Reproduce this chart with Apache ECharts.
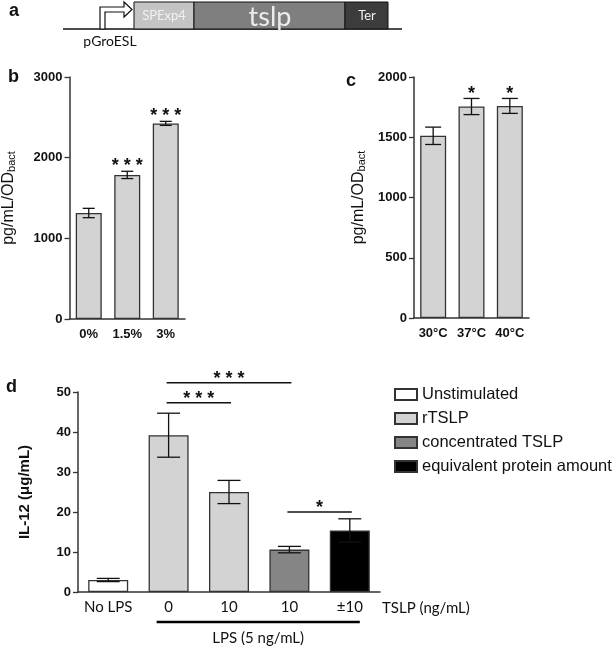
<!DOCTYPE html>
<html>
<head>
    <meta charset="utf-8" />
    <script src="https://cdn.jsdelivr.net/npm/echarts@6/dist/echarts.min.js"></script>
    <style>
        html, body { margin: 0; padding: 0; background: #fff; }
        #main { width: 615px; height: 647px; }
    </style>
</head>
<body>
    <div id="main"></div>
    <script type="text/javascript">
        // panel b
        var catsB = ['0%', '1.5%', '3%'];
        var valsB = [1314, 1786, 2425];
        var errB = [58, 45, 25];
        var starsB = ['', '* * *', '* * *'];

        // panel c
        var catsC = ['30°C', '37°C', '40°C'];
        var valsC = [1512, 1755, 1760];
        var errC = [72, 67, 62];
        var starsC = ['', '*', '*'];

        // panel d
        var catsD = ['No LPS', '0', '10', '10', '±10'];
        var valsD = [3.0, 39.2, 25.0, 10.6, 15.4];
        var errD = [0.4, 5.5, 2.9, 0.8, 2.9];
        var groupNames = ['Unstimulated', 'rTSLP', 'concentrated TSLP', 'equivalent protein amount'];
        var groupColors = ['#ffffff', '#d3d3d3', '#858585', '#000000'];
        var groupOf = [0, 1, 1, 2, 3];
        // brackets: [from, to, y, text]
        var bracketsD = [[1, 3, 52.3, '* * *'], [1, 2, 47.3, '* * *'], [3, 4, 20.0, '*']];

        var FONT = 'Liberation Sans, Arial, sans-serif';
        var edge = '#333';

        function errRows(vals, errs, stars) {
            var rows = [];
            for (var i = 0; i < vals.length; i++) {
                rows.push([i, vals[i], errs[i], stars ? stars[i] : '']);
            }
            return rows;
        }

        function errSeries(idx, rows, capW, starSize, starGap) {
            return {
                type: 'custom',
                xAxisIndex: idx,
                yAxisIndex: idx,
                clip: false,
                z: 5,
                data: rows,
                renderItem: function (params, api) {
                    var x = api.value(0), v = api.value(1), e = api.value(2);
                    var top = api.coord([x, v + e]);
                    var bot = api.coord([x, v - e]);
                    var st = { stroke: '#111', lineWidth: 1.3 };
                    var kids = [
                        { type: 'line', shape: { x1: top[0], y1: top[1], x2: bot[0], y2: bot[1] }, style: st },
                        { type: 'line', shape: { x1: top[0] - capW / 2, y1: top[1], x2: top[0] + capW / 2, y2: top[1] }, style: st },
                        { type: 'line', shape: { x1: bot[0] - capW / 2, y1: bot[1], x2: bot[0] + capW / 2, y2: bot[1] }, style: st }
                    ];
                    var s = rows[params.dataIndex][3];
                    if (s) {
                        kids.push({
                            type: 'text',
                            style: {
                                text: s, x: top[0], y: top[1] - starGap,
                                align: 'center', verticalAlign: 'middle',
                                fontSize: starSize, fontWeight: 'bold', fontFamily: FONT, fill: '#111'
                            }
                        });
                    }
                    return { type: 'group', children: kids };
                }
            };
        }

        function baseX(idx, cats, gridIdx) {
            return {
                type: 'category', gridIndex: gridIdx, data: cats,
                axisLine: { lineStyle: { color: edge, width: 1.5 } },
                axisTick: { alignWithLabel: true, length: 4, lineStyle: { color: edge, width: 1.3 } },
                axisLabel: { interval: 0, color: '#111', fontSize: 13, fontWeight: 'bold', fontFamily: FONT, margin: 9 }
            };
        }

        function baseY(gridIdx, max, interval, name, gap) {
            return {
                type: 'value', gridIndex: gridIdx, min: 0, max: max, interval: interval,
                splitLine: { show: false },
                axisLine: { show: true, lineStyle: { color: edge, width: 1.5 } },
                axisTick: { show: true, length: 5, lineStyle: { color: edge, width: 1.3 } },
                axisLabel: {
                    color: '#111', fontSize: 13, fontWeight: 'bold', fontFamily: FONT, margin: 7,
                    formatter: function (v) { return String(v); }
                },
                name: name, nameLocation: 'middle', nameRotate: 90, nameGap: gap
            };
        }

        var odName = '{a|pg/mL/OD}{s|bact}';
        var odRich = {
            a: { fontSize: 16, fontFamily: FONT, color: '#111' },
            s: { fontSize: 11, fontFamily: FONT, color: '#111', padding: [6, 0, 0, 0] }
        };

        var yB = baseY(0, 3000, 1000, odName, 52);
        yB.nameTextStyle = { rich: odRich };
        var yC = baseY(1, 2000, 500, odName, 47);
        yC.nameTextStyle = { rich: odRich };
        var yD = baseY(2, 50, 10, 'IL-12 (μg/mL)', 46);
        yD.nameTextStyle = { fontSize: 15, fontWeight: 'bold', fontFamily: FONT, color: '#111' };

        var xD = baseX(2, catsD, 2);
        xD.axisLabel = { interval: 0, color: '#111', fontSize: 15, fontFamily: 'Lato, sans-serif', margin: 8 };
        xD.name = 'TSLP (ng/mL)';
        xD.nameLocation = 'end';
        xD.nameGap = 2;
        xD.nameTextStyle = { fontSize: 15, fontFamily: 'Lato, sans-serif', color: '#111', align: 'left', verticalAlign: 'top', padding: [9, 0, 0, 0] };

        var barStyle = { color: '#d3d3d3', borderColor: edge, borderWidth: 1.3 };

        var series = [
            { type: 'bar', xAxisIndex: 0, yAxisIndex: 0, data: valsB, barWidth: 26, itemStyle: barStyle },
            errSeries(0, errRows(valsB, errB, starsB), 12, 18, 5),
            { type: 'bar', xAxisIndex: 1, yAxisIndex: 1, data: valsC, barWidth: 26, itemStyle: barStyle },
            errSeries(1, errRows(valsC, errC, starsC), 16, 18, 4)
        ];

        for (var g = 0; g < groupNames.length; g++) {
            var d = [];
            for (var i = 0; i < valsD.length; i++) d.push(groupOf[i] === g ? valsD[i] : '-');
            series.push({
                type: 'bar', name: groupNames[g], xAxisIndex: 2, yAxisIndex: 2,
                data: d, barWidth: 40, barGap: '-100%',
                itemStyle: { color: groupColors[g], borderColor: edge, borderWidth: 1.3 }
            });
        }
        series.push(errSeries(2, errRows(valsD, errD), 23, 18, 0));

        // significance brackets + LPS bar
        series.push({
            type: 'custom', xAxisIndex: 2, yAxisIndex: 2, clip: false, z: 6,
            data: bracketsD,
            renderItem: function (params, api) {
                var a = api.coord([api.value(0), api.value(2)]);
                var b = api.coord([api.value(1), api.value(2)]);
                var kids = [
                    { type: 'line', shape: { x1: a[0] - 2, y1: a[1], x2: b[0] + 2, y2: b[1] }, style: { stroke: '#111', lineWidth: 1.5 } },
                    {
                        type: 'text', style: {
                            text: bracketsD[params.dataIndex][3], x: (a[0] + b[0]) / 2, y: a[1] - 4,
                            align: 'center', verticalAlign: 'middle', fontSize: 18, fontWeight: 'bold', fontFamily: FONT, fill: '#111'
                        }
                    }
                ];
                return { type: 'group', children: kids };
            }
        });
        series.push({
            type: 'custom', xAxisIndex: 2, yAxisIndex: 2, clip: false, z: 6,
            data: [[1, 4, 'LPS (5 ng/mL)']],
            renderItem: function (params, api) {
                var a = api.coord([api.value(0), 0]);
                var b = api.coord([api.value(1), 0]);
                var y = a[1] + 30;
                return {
                    type: 'group', children: [
                        { type: 'line', shape: { x1: a[0] - 12, y1: y, x2: b[0] + 10, y2: y }, style: { stroke: '#000', lineWidth: 2.5 } },
                        {
                            type: 'text', style: {
                                text: 'LPS (5 ng/mL)', x: (a[0] + b[0]) / 2 - 1, y: y + 16,
                                align: 'center', verticalAlign: 'middle', fontSize: 15, fontFamily: 'Lato, sans-serif', fill: '#111'
                            }
                        }
                    ]
                };
            }
        });

        var panelLabel = function (t, x, y) {
            return { type: 'text', left: x, top: y, style: { text: t, fontSize: 18, fontWeight: 'bold', fontFamily: FONT, fill: '#111' } };
        };

        // panel a schematic
        var graphic = [
            panelLabel('a', 9, 2),
            panelLabel('b', 8, 68),
            panelLabel('c', 346, 72),
            panelLabel('d', 6, 378),
            { type: 'line', shape: { x1: 63, y1: 29, x2: 402, y2: 29 }, style: { stroke: '#111', lineWidth: 1.5 } },
            { type: 'rect', shape: { x: 134, y: 2, width: 60, height: 27 }, style: { fill: '#c4c4c4', stroke: '#111', lineWidth: 1 } },
            { type: 'rect', shape: { x: 194, y: 2, width: 151, height: 27 }, style: { fill: '#7f7f7f', stroke: '#111', lineWidth: 1 } },
            { type: 'rect', shape: { x: 345, y: 2, width: 43, height: 27 }, style: { fill: '#3c3c3c', stroke: '#111', lineWidth: 1 } },
            { type: 'text', style: { text: 'SPExp4', x: 164, y: 16, align: 'center', verticalAlign: 'middle', fontSize: 13, fontFamily: 'Lato, sans-serif', fill: '#f0f0f0' } },
            { type: 'text', style: { text: 'tslp', x: 270, y: 17, align: 'center', verticalAlign: 'middle', fontSize: 27, fontFamily: 'Lato, sans-serif', fill: '#ececec' } },
            { type: 'text', style: { text: 'Ter', x: 367, y: 16, align: 'center', verticalAlign: 'middle', fontSize: 13, fontFamily: 'Lato, sans-serif', fill: '#f0f0f0' } },
            {
                type: 'polygon',
                shape: { points: [[100, 29], [100, 7], [124, 7], [124, 2], [132, 9.5], [124, 17], [124, 12], [105, 12], [105, 29]] },
                style: { fill: '#fff', stroke: '#111', lineWidth: 1.2 }
            },
            { type: 'text', style: { text: 'pGroESL', x: 110, y: 41, align: 'center', verticalAlign: 'middle', fontSize: 14, fontFamily: 'Lato, sans-serif', fill: '#111' } }
        ];

        var option = {
            animation: false,
            backgroundColor: '#fff',
            grid: [
                { left: 67, top: 77, width: 118, height: 242 },
                { left: 414, top: 77, width: 115, height: 241 },
                { left: 78, top: 392, width: 302, height: 200 }
            ],
            xAxis: [baseX(0, catsB, 0), baseX(1, catsC, 1), xD],
            yAxis: [yB, yC, yD],
            legend: {
                data: groupNames,
                orient: 'vertical', left: 389, top: 381,
                itemWidth: 22, itemHeight: 11, itemGap: 7,
                icon: 'rect',
                textStyle: { fontSize: 16.5, fontFamily: FONT, color: '#111' }
            },
            graphic: graphic,
            series: series
        };

        var myChart = echarts.init(document.getElementById('main'));
        myChart.setOption(option);
    </script>
</body>
</html>
